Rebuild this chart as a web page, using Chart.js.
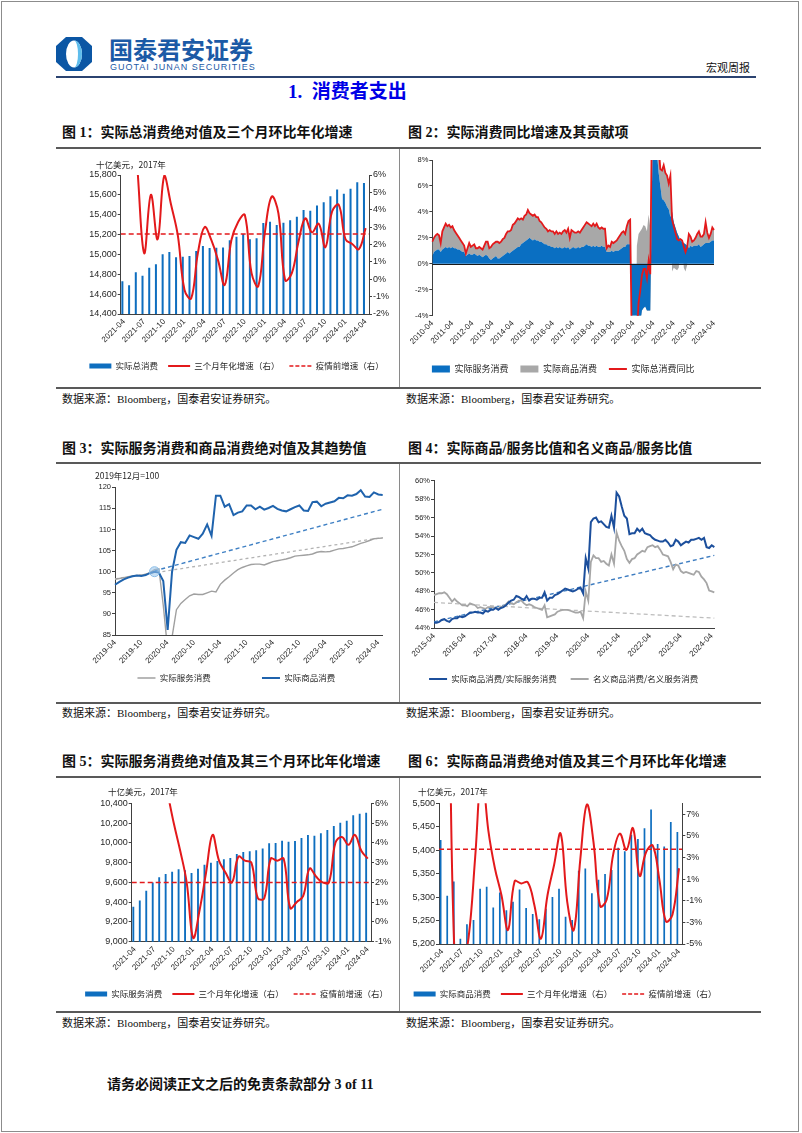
<!DOCTYPE html>
<html><head><meta charset="utf-8">
<script src="https://cdn.jsdelivr.net/npm/chart.js@4.4.1/dist/chart.umd.min.js"></script>
<style>
html,body{margin:0;padding:0;background:#fff;}
body{width:802px;height:1133px;position:relative;overflow:hidden;font-family:'Liberation Serif','Noto Sans CJK SC',serif;color:#111;}
.abs{position:absolute;}
.frame{left:1px;top:1px;width:796px;height:1129px;border:1px solid #8c8c8c;}
.ttl{font-size:14px;font-weight:bold;white-space:nowrap;line-height:20px;}
.src{font-size:11px;white-space:nowrap;line-height:14px;}
.hl{background:#595959;height:2px;left:56px;width:705px;}
.vl{background:#8a8a8a;width:1px;left:399px;}
.unit{font-family:'Noto Sans CJK SC','Liberation Sans',sans-serif;font-size:8.5px;color:#262626;white-space:nowrap;line-height:12px;}
.box{position:absolute;}
.box canvas{display:block;}
</style></head>
<body>
<div class="abs frame"></div>
<svg class="abs" style="left:56px;top:37px" width="36" height="34" viewBox="0 0 36 34">
 <polygon points="10,0 26,0 36,9 36,25 26,34 10,34 0,25 0,9" fill="#0b56a4"/>
 <ellipse cx="18" cy="17" rx="8" ry="13.5" fill="#ffffff"/>
 <path d="M18,3.5 A8,13.5 0 0 1 18,30.5 A4,13.5 0 0 0 18,3.5 Z" fill="#5fbdec"/>
</svg>
<div class="abs" style="left:109px;top:35px;font-family:'Noto Sans CJK SC',sans-serif;font-weight:bold;font-size:24px;line-height:28px;color:#1b5aa6;white-space:nowrap;">国泰君安证券</div>
<div class="abs" style="left:110px;top:62px;font-family:'Liberation Sans',sans-serif;font-size:9px;line-height:10px;letter-spacing:1px;color:#1b5aa6;white-space:nowrap;">GUOTAI JUNAN SECURITIES</div>
<div class="abs" style="left:706px;top:61px;font-size:11px;line-height:14px;white-space:nowrap;">宏观周报</div>
<div class="abs" style="left:56px;top:76px;width:700px;height:1.5px;background:#2b4370;"></div>
<div class="abs" style="left:288px;top:80px;font-size:19px;line-height:24px;font-weight:bold;color:#0000e6;white-space:nowrap;">1.&nbsp; 消费者支出</div>

<!-- row 1 -->
<div class="abs ttl" style="left:62px;top:123px;">图 1：实际总消费绝对值及三个月环比年化增速</div>
<div class="abs ttl" style="left:408px;top:123px;">图 2：实际消费同比增速及其贡献项</div>
<div class="abs hl" style="top:147px;"></div>
<div class="abs vl" style="top:149px;height:238px;"></div>
<div class="abs hl" style="top:387px;"></div>
<div class="abs src" style="left:62px;top:392px;">数据来源：Bloomberg，国泰君安证券研究。</div>
<div class="abs src" style="left:406px;top:392px;">数据来源：Bloomberg，国泰君安证券研究。</div>
<div class="box" style="left:60px;top:150px;width:338px;height:236px;"><canvas id="c1"></canvas></div>
<div class="box" style="left:400px;top:150px;width:360px;height:236px;"><canvas id="c2"></canvas></div>
<div class="abs unit" style="left:96px;top:158px;">十亿美元，2017年</div>

<!-- row 2 -->
<div class="abs ttl" style="left:62px;top:439px;">图 3：实际服务消费和商品消费绝对值及其趋势值</div>
<div class="abs ttl" style="left:408px;top:439px;">图 4：实际商品/服务比值和名义商品/服务比值</div>
<div class="abs hl" style="top:462px;"></div>
<div class="abs vl" style="top:464px;height:238px;"></div>
<div class="abs hl" style="top:702px;"></div>
<div class="abs src" style="left:62px;top:706px;">数据来源：Bloomberg，国泰君安证券研究。</div>
<div class="abs src" style="left:406px;top:706px;">数据来源：Bloomberg，国泰君安证券研究。</div>
<div class="box" style="left:60px;top:465px;width:338px;height:237px;"><canvas id="c3"></canvas></div>
<div class="box" style="left:400px;top:465px;width:360px;height:237px;"><canvas id="c4"></canvas></div>
<div class="abs unit" style="left:95px;top:469px;">2019年12月=100</div>

<!-- row 3 -->
<div class="abs ttl" style="left:62px;top:752px;">图 5：实际服务消费绝对值及其三个月环比年化增速</div>
<div class="abs ttl" style="left:408px;top:752px;">图 6：实际商品消费绝对值及其三个月环比年化增速</div>
<div class="abs hl" style="top:776px;"></div>
<div class="abs vl" style="top:778px;height:233px;"></div>
<div class="abs hl" style="top:1011px;"></div>
<div class="abs src" style="left:62px;top:1016px;">数据来源：Bloomberg，国泰君安证券研究。</div>
<div class="abs src" style="left:406px;top:1016px;">数据来源：Bloomberg，国泰君安证券研究。</div>
<div class="box" style="left:60px;top:779px;width:338px;height:232px;"><canvas id="c5"></canvas></div>
<div class="box" style="left:400px;top:779px;width:360px;height:232px;"><canvas id="c6"></canvas></div>
<div class="abs unit" style="left:108px;top:785px;">十亿美元，2017年</div>
<div class="abs unit" style="left:418px;top:785px;">十亿美元，2017年</div>

<div class="abs" style="left:107px;top:1075px;font-size:14px;line-height:20px;font-weight:bold;white-space:nowrap;">请务必阅读正文之后的免责条款部分 3 of 11</div>

<script>
// ---------- data ----------
// Chart 1: real total PCE (bn 2017 USD), 2021-04..2024-04
const total1 = [14729,14689,14820,14786,14867,14900,15001,15024,14971,14977,14984,15034,15085,15065,15068,15071,15142,15179,15206,15152,15162,15316,15330,15296,15320,15343,15380,15447,15440,15494,15525,15585,15655,15612,15662,15726,15719];
const growth1 = [null,null,6.3,1.5,4.86,2.3,5.97,4.3,2.55,-0.6,-1.1,1.5,3.0,2.26,1.1,-0.33,2.26,3.3,3.7,0.35,-0.4,2.74,4.76,3.8,-0.05,0.35,2.17,3.5,2.7,3.2,1.84,3.9,4.28,2.3,2.03,1.73,2.94];
const preCovid1 = 2.6;

// Chart 2: YoY contributions (%), 2010-04..2024-04
const svc2 = [
 0.6,0.9,1.0,1.1,1.1,0.9,1.1,1.2,1.3,
 1.2,1.3,1.2,1.3,1.2,1.2,1.1,1.1,1.0,0.9,0.9,0.6,
 0.7,0.8,0.7,0.7,0.8,0.7,0.6,0.7,0.6,0.5,0.6,0.7,
 0.6,0.4,0.3,0.4,0.5,0.6,0.4,0.4,0.5,0.6,0.7,0.8,
 0.9,0.8,0.9,1.0,1.1,1.2,1.3,1.3,1.5,1.6,1.7,1.8,
 1.9,2.0,1.9,1.8,1.9,1.8,1.8,1.7,1.7,1.6,1.5,1.5,
 1.4,1.4,1.3,1.3,1.2,1.3,1.2,1.3,1.2,1.2,1.3,1.2,
 1.3,1.1,1.2,1.3,1.2,1.2,1.3,1.2,1.3,1.3,1.4,1.5,
 1.4,1.4,1.3,1.4,1.3,1.4,1.3,1.3,1.4,1.3,1.3,0.9,
 0.9,0.9,1.0,0.9,1.0,1.0,1.0,1.1,1.2,1.3,1.3,1.5,
 1.5,1.5,-5.0,-12.0,-10.0,-7.0,-5.3,-4.6,-3.6,-3.4,-3.3,-3.6,
 -3.6,-3.6,6.0,14.0,11.0,8.5,7.0,6.0,5.0,4.9,4.7,4.4,
 4.2,3.6,4.0,3.2,2.8,2.4,2.1,1.8,1.7,1.6,1.5,1.4,
 1.2,1.4,1.3,1.4,1.4,1.4,1.5,1.3,1.4,1.5,1.6,1.6,
 1.6,1.7,1.8,1.8];
const goods2 = [
 1.1,1.1,1.2,1.2,1.1,0.7,1.4,1.6,1.8,
 1.7,1.7,1.6,1.6,1.4,1.2,1.1,0.9,0.8,0.7,0.5,0.2,
 0.5,0.8,0.6,0.7,0.7,0.5,0.6,0.6,0.6,0.6,0.8,1.0,
 1.1,0.8,1.0,1.1,1.1,1.1,1.3,1.2,1.2,1.3,1.3,1.5,
 1.6,1.7,1.7,2.0,2.0,2.1,2.2,2.1,2.0,1.8,2.0,2.0,
 2.25,1.9,1.9,1.9,1.9,1.8,1.8,1.6,1.5,1.4,1.3,1.2,
 1.1,1.2,1.2,1.2,1.1,1.2,1.1,1.1,1.1,1.3,1.3,1.2,
 1.4,0.9,1.4,1.2,1.2,1.2,1.2,1.2,1.3,1.5,1.6,1.7,
 1.7,1.6,1.6,1.7,1.6,1.7,1.5,1.4,1.4,1.4,1.4,0.3,
 0.5,0.4,0.7,0.7,0.7,0.8,1.0,1.1,1.2,1.2,1.0,1.4,
 1.8,1.9,-1.5,-5.5,-0.5,1.4,2.3,2.5,2.7,3.0,2.9,2.5,
 3.8,2.8,5.5,13.0,6.0,3.5,2.0,1.3,2.2,2.7,2.3,2.4,
 2.0,3.2,-0.6,-0.3,-0.4,-0.5,-0.3,0.1,0.1,-0.3,-0.6,-0.1,
 1.1,0.7,0.4,0.4,0.6,0.9,1.0,0.8,0.7,0.8,1.6,0.8,
 0.4,0.6,1.0,0.8];
const total2 = [
 1.7,2.0,2.2,2.3,2.2,1.6,2.5,2.8,3.1,
 2.9,3.0,2.8,2.9,2.6,2.4,2.2,2.0,1.8,1.6,1.4,0.8,
 1.2,1.6,1.3,1.4,1.5,1.2,1.2,1.3,1.2,1.1,1.4,1.7,
 1.7,1.2,1.3,1.5,1.6,1.7,1.7,1.6,1.7,1.9,2.0,2.3,
 2.5,2.5,2.6,3.0,3.1,3.3,3.5,3.4,3.5,3.4,3.7,3.8,
 4.15,3.9,3.8,3.7,3.8,3.6,3.6,3.3,3.2,3.0,2.8,2.7,
 2.5,2.6,2.5,2.5,2.3,2.5,2.3,2.4,2.3,2.5,2.6,2.4,
 2.7,2.0,2.6,2.5,2.4,2.4,2.5,2.4,2.6,2.8,3.0,3.2,
 3.1,3.0,2.9,3.1,2.9,3.1,2.8,2.7,2.8,2.7,2.7,1.2,
 1.4,1.3,1.7,1.6,1.7,1.8,2.0,2.2,2.4,2.5,2.3,2.9,
 3.3,3.4,-6.5,-17.5,-10.5,-5.6,-3.0,-2.1,-0.9,-0.4,-0.4,-1.1,
 0.2,-0.8,11.5,27.0,17.0,12.0,9.0,7.3,7.2,7.6,7.0,6.8,
 6.2,6.8,3.4,2.9,2.4,1.9,1.8,1.9,1.8,1.3,0.9,1.3,
 2.3,2.1,1.7,1.8,2.0,2.3,2.5,2.1,2.1,2.3,3.2,2.4,
 2.0,2.3,2.8,2.6];

// Chart 3: index Dec 2019 = 100, 2019-04..2024-05
const svc3 = [98.2,98.4,98.6,98.8,99.0,99.1,99.2,99.4,99.8,100.5,100.7,92.0,81.5,84.5,91.0,92.5,93.4,94.3,94.7,94.6,94.6,95.0,95.4,95.2,97.0,98.0,98.8,99.7,100.5,101.0,101.4,101.7,101.8,101.8,101.6,102.0,102.4,102.6,102.8,103.0,103.3,103.7,103.8,103.9,104.0,104.2,104.6,104.8,104.7,104.8,105.1,105.4,105.5,105.7,105.9,106.3,106.7,107.0,107.4,107.8,107.9,108.0];
const goods3 = [96.9,97.6,98.2,98.6,98.9,99.1,99.0,99.2,99.7,100.0,99.8,97.8,86.2,100.0,105.2,107.0,106.8,108.6,108.2,107.8,109.0,111.2,108.5,118.0,118.0,115.4,116.0,113.4,114.0,114.3,115.7,115.7,114.8,115.4,114.7,115.1,115.6,114.9,114.5,114.3,114.8,115.3,115.7,114.5,114.4,116.5,116.6,115.5,116.1,116.4,116.7,117.5,117.4,118.1,118.0,118.4,119.3,117.8,117.7,118.8,118.3,118.2];
const svcTrend3 = [98.3, 108.1];     // start (2019-04) / end (2024-05)
const goodsTrend3 = [100.2, 114.8];  // start (2020-01) / end (2024-05)

// Chart 4: goods/services ratio (%), 2015-04..2024-05
const real4 = [44.6,44.6,44.7,44.9,45.0,44.8,44.7,45.0,45.1,45.1,45.3,45.2,45.3,45.5,45.7,45.7,45.8,45.7,45.7,45.6,45.9,45.8,46.0,46.0,46.2,46.0,46.2,46.3,46.5,46.8,47.0,47.1,47.5,47.4,47.2,47.1,47.5,47.0,47.2,47.2,47.1,47.3,47.3,47.9,47.0,47.3,47.3,47.6,47.7,47.9,48.1,48.3,48.2,48.1,48.0,48.1,48.3,48.4,47.8,51.6,50.5,55.5,55.9,56.0,55.5,55.6,55.3,55.0,54.9,56.2,54.9,58.7,58.3,57.2,56.2,55.9,54.2,54.3,54.3,54.8,54.5,54.8,54.3,54.2,54.1,53.8,53.6,53.5,53.4,53.4,53.6,53.3,52.9,53.0,53.6,53.4,53.0,53.2,53.4,53.3,53.6,53.6,53.7,53.8,53.6,53.8,52.8,52.7,53.0,52.8];
const nominal4 = [47.6,47.7,47.8,47.8,47.9,47.7,47.3,46.9,47.2,46.9,46.7,46.5,46.5,46.4,46.7,46.6,46.5,46.2,46.3,46.2,46.1,46.3,46.3,46.3,46.2,46.1,46.3,46.4,46.6,46.9,46.7,46.6,46.8,47.0,47.0,46.7,46.5,46.6,46.5,46.3,46.2,46.1,46.0,46.5,45.2,45.3,45.4,45.5,45.8,45.9,46.0,46.0,46.0,45.9,45.8,45.7,45.7,45.8,45.1,48.0,47.0,51.2,51.9,51.6,51.6,51.2,51.3,51.0,50.8,52.0,51.0,54.4,53.5,52.9,52.4,51.5,51.1,51.5,51.6,52.0,52.2,52.4,52.3,52.8,52.9,53.0,52.8,52.9,52.5,52.0,51.9,51.8,51.2,50.4,50.9,50.8,50.2,50.0,50.1,50.0,49.9,49.8,50.2,50.1,49.6,49.3,48.9,48.1,48.0,47.9];
const realTrend4 = [44.7, 51.9];
const nominalTrend4 = [46.8, 45.1];

// Chart 5: real services PCE, 2021-04..2024-04
const svc5 = [9354,9418,9516,9600,9651,9685,9708,9732,9722,9695,9739,9779,9799,9816,9833,9847,9887,9907,9914,9924,9944,9995,9998,10022,10012,10019,10049,10079,10073,10096,10130,10170,10204,10224,10278,10295,10305];
const growth5 = [null,null,null,null,null,6.6,5.0,3.6,2.0,-0.8,0.6,2.5,4.4,3.1,2.5,2.0,3.3,3.1,3.0,1.2,1.2,3.2,3.1,3.2,0.7,1.0,1.3,2.7,2.3,2.0,2.0,4.0,4.3,3.9,4.4,3.6,3.2];
const preCovid5 = 2.0;

// Chart 6: real goods PCE, 2021-04..2024-04
const goods6 = [5422,5303,5333,5211,5242,5251,5318,5322,5278,5310,5272,5290,5316,5277,5264,5253,5275,5300,5318,5258,5251,5356,5361,5308,5337,5349,5358,5405,5398,5433,5424,5447,5487,5413,5408,5460,5439];
const growth6 = [null,20,-8,-7,-4.4,3.0,11,5.5,2.0,-0.5,-3.7,0.8,0.6,0.7,-1.4,-4.5,-0.5,2.3,5.2,-1.1,-3.7,2.9,7.9,4.4,-1.5,-0.9,3.3,5.2,3.7,5.7,1.3,3.5,4.1,1.0,-2.9,-2.3,2.0];
const preCovid6 = 3.75;
const rightTicks6 = [-5,-3,-1,1,3,5,7];

// ---------- helpers ----------
function monthLabels(y, m, n) {
  const out = [];
  for (let i = 0; i < n; i++) {
    const k = m - 1 + i;
    out.push((y + Math.floor(k / 12)) + '-' + String(k % 12 + 1).padStart(2, '0'));
  }
  return out;
}
const L1 = monthLabels(2021, 4, 37);
const L2 = monthLabels(2010, 4, 169);
const L3 = monthLabels(2019, 4, 62);
const L4 = monthLabels(2015, 4, 110);

const RED = '#e3191b', BLUE = '#0e6ebf', GRAY = '#a6a6a6', AX = '#404040', TXT = '#262626';
Chart.defaults.font.family = "'Liberation Sans','Noto Sans CJK SC',sans-serif";
Chart.defaults.color = TXT;
Chart.defaults.animation = false;

function legendOpts(items, pad, boxH, boxW, fsize) {
  return {
    position: 'bottom',
    labels: {
      usePointStyle: true, pointStyleWidth: boxW, boxHeight: boxH, padding: pad,
      font: {family: "'Noto Sans CJK SC',sans-serif", size: fsize || 8.5}, color: TXT,
      generateLabels: () => items.map(s => ({
        text: s.text, fillStyle: s.fill || 'rgba(0,0,0,0)', strokeStyle: s.stroke || s.fill || 'rgba(0,0,0,0)',
        lineWidth: s.lw || 0, lineDash: s.dash || [], pointStyle: s.style, hidden: false, fontColor: TXT
      }))
    }
  };
}
function yAxis(pos, min, max, step, width, fmt, size) {
  return {
    position: pos, min: min, max: max,
    ticks: {stepSize: step, font: {size: size}, padding: 1, callback: fmt, color: TXT},
    grid: {drawOnChartArea: false, drawTicks: true, tickLength: 3, color: AX, tickColor: AX},
    border: {color: AX, width: 1},
    afterFit: s => { s.width = width; }
  };
}
function xAxis(every, height, offset, showBorder) {
  return {
    type: 'category', offset: offset,
    grid: {display: false, drawTicks: false},
    border: {display: showBorder, color: AX},
    ticks: {autoSkip: false, maxRotation: 45, minRotation: 45, font: {size: 8}, padding: 3, color: TXT,
      callback: function (v, i) { return i % every === 0 ? this.getLabelForValue(v) : ''; }},
    afterFit: s => { s.height = height; }
  };
}
const pct = v => v + '%';
const thous = v => Number(v).toLocaleString('en-US');
const fullX = {type: 'linear', min: 0, max: 1, offset: false, display: false};

// ---------- chart 1 ----------
new Chart(document.getElementById('c1'), {
  type: 'bar',
  data: {
    labels: L1,
    datasets: [
      {type: 'bar', label: '实际总消费', data: total1, yAxisID: 'yL', backgroundColor: BLUE, barPercentage: 0.6, categoryPercentage: 1, order: 3},
      {type: 'line', label: '三个月年化增速（右）', data: growth1, yAxisID: 'yR', borderColor: RED, borderWidth: 2, pointRadius: 0, tension: 0.4, order: 1},
      {type: 'line', label: '疫情前增速（右）', data: [{x: 0, y: preCovid1}, {x: 1, y: preCovid1}], xAxisID: 'xF', yAxisID: 'yR', borderColor: RED, borderWidth: 1.5, borderDash: [5, 3], pointRadius: 0, order: 2}
    ]
  },
  options: {
    responsive: true, maintainAspectRatio: false, devicePixelRatio: 1,
    layout: {padding: {left: 15, right: 0, top: 25, bottom: 5.75}},
    plugins: {
      tooltip: {enabled: false},
      legend: legendOpts([
        {text: '实际总消费', style: 'rect', fill: BLUE},
        {text: '三个月年化增速（右）', style: 'line', stroke: RED, lw: 2},
        {text: '疫情前增速（右）', style: 'line', stroke: RED, lw: 1.5, dash: [4, 2]}
      ], 10, 5, 22)
    },
    scales: {
      x: xAxis(3, 37.75, true, true),
      xF: fullX,
      yL: yAxis('left', 14400, 15800, 200, 45.7, thous, 9),
      yR: yAxis('right', -2, 6, 1, 29, pct, 9)
    }
  }
});

// ---------- chart 2 ----------
const zeroLine = {
  id: 'zeroLine',
  afterDatasetsDraw(chart) {
    const y = chart.scales.y.getPixelForValue(0);
    const a = chart.chartArea, ctx = chart.ctx;
    ctx.save(); ctx.strokeStyle = '#1a1a1a'; ctx.lineWidth = 1;
    ctx.beginPath(); ctx.moveTo(a.left, Math.round(y) + 0.5); ctx.lineTo(a.right, Math.round(y) + 0.5); ctx.stroke();
    ctx.restore();
  }
};
new Chart(document.getElementById('c2'), {
  type: 'line',
  data: {
    labels: L2,
    datasets: [
      {label: '实际服务消费', data: svc2, stack: 'a', fill: 'origin', backgroundColor: '#0a6fc2', borderWidth: 0, pointRadius: 0, tension: 0, order: 2},
      {label: '实际商品消费', data: goods2, stack: 'a', fill: '-1', backgroundColor: '#a8a8a8', borderWidth: 0, pointRadius: 0, tension: 0, order: 3},
      {label: '实际总消费同比', data: total2, stack: 'b', fill: false, borderColor: RED, borderWidth: 1.8, pointRadius: 0, tension: 0, order: 1}
    ]
  },
  options: {
    responsive: true, maintainAspectRatio: false, devicePixelRatio: 1,
    layout: {padding: {left: 12.3, right: 46, top: 10, bottom: 2.5}},
    plugins: {
      tooltip: {enabled: false},
      legend: legendOpts([
        {text: '实际服务消费', style: 'rect', fill: '#0a6fc2'},
        {text: '实际商品消费', style: 'rect', fill: '#a8a8a8'},
        {text: '实际总消费同比', style: 'line', stroke: RED, lw: 2}
      ], 12, 7, 18, 9)
    },
    scales: {
      x: xAxis(12, 36.8, false, false),
      y: Object.assign(yAxis('left', -4, 8, 2, 20, pct, 7.5), {stacked: true})
    }
  },
  plugins: [zeroLine]
});

// ---------- chart 3 ----------
new Chart(document.getElementById('c3'), {
  type: 'line',
  data: {
    labels: L3,
    datasets: [
      {label: '实际服务消费', data: svc3, borderColor: '#a0a0a0', borderWidth: 1.4, pointRadius: 0, tension: 0, order: 2},
      {label: '实际商品消费', data: goods3, borderColor: '#1f63ad', borderWidth: 2, tension: 0, order: 1,
        pointRadius: goods3.map((v, i) => i === 9 ? 5 : 0), pointBackgroundColor: 'rgba(150,195,235,0.55)', pointBorderColor: '#8cbde6', pointBorderWidth: 1},
      {label: 'svcTrend', data: [{x: L3[0], y: svcTrend3[0]}, {x: L3[61], y: svcTrend3[1]}], borderColor: '#b3b3b3', borderWidth: 1.3, borderDash: [3, 3], pointRadius: 0, order: 4},
      {label: 'goodsTrend', data: [{x: L3[9], y: goodsTrend3[0]}, {x: L3[61], y: goodsTrend3[1]}], borderColor: '#3f80c4', borderWidth: 1.4, borderDash: [4, 3], pointRadius: 0, order: 3}
    ]
  },
  options: {
    responsive: true, maintainAspectRatio: false, devicePixelRatio: 1,
    layout: {padding: {left: 30, right: 15.3, top: 22.3, bottom: 9.75}},
    plugins: {
      tooltip: {enabled: false},
      legend: legendOpts([
        {text: '实际服务消费\u3000\u3000\u3000\u3000\u3000', style: 'line', stroke: '#a0a0a0', lw: 1.5},
        {text: '实际商品消费', style: 'line', stroke: '#1f63ad', lw: 2}
      ], 8.75, 5, 18)
    },
    scales: {
      x: xAxis(6, 30, false, true),
      y: yAxis('left', 85, 120, 5, 25, v => v, 7.5)
    }
  }
});

// ---------- chart 4 ----------
new Chart(document.getElementById('c4'), {
  type: 'line',
  data: {
    labels: L4,
    datasets: [
      {label: '实际商品消费/实际服务消费', data: real4, borderColor: '#1c4f9c', borderWidth: 2, pointRadius: 0, tension: 0, order: 1},
      {label: '名义商品消费/名义服务消费', data: nominal4, borderColor: '#a6a6a6', borderWidth: 1.8, pointRadius: 0, tension: 0, order: 2},
      {label: 'realTrend', data: [{x: L4[0], y: realTrend4[0]}, {x: L4[109], y: realTrend4[1]}], borderColor: '#3d7cc0', borderWidth: 1.4, borderDash: [4, 3], pointRadius: 0, order: 3},
      {label: 'nominalTrend', data: [{x: L4[0], y: nominalTrend4[0]}, {x: L4[109], y: nominalTrend4[1]}], borderColor: '#bdbdbd', borderWidth: 1.3, borderDash: [4, 3], pointRadius: 0, order: 4}
    ]
  },
  options: {
    responsive: true, maintainAspectRatio: false, devicePixelRatio: 1,
    layout: {padding: {left: 13, right: 45.7, top: 15.7, bottom: 8.75}},
    plugins: {
      tooltip: {enabled: false},
      legend: legendOpts([
        {text: '实际商品消费/实际服务消费', style: 'line', stroke: '#1c4f9c', lw: 2},
        {text: '名义商品消费/名义服务消费', style: 'line', stroke: '#a6a6a6', lw: 2}
      ], 14, 5, 18)
    },
    scales: {
      x: xAxis(12, 32.45, false, true),
      y: yAxis('left', 44, 60, 2, 21, pct, 7.5)
    }
  }
});

// ---------- chart 5 ----------
new Chart(document.getElementById('c5'), {
  type: 'bar',
  data: {
    labels: L1,
    datasets: [
      {type: 'bar', label: '实际服务消费', data: svc5, yAxisID: 'yL', backgroundColor: BLUE, barPercentage: 0.58, categoryPercentage: 1, order: 3},
      {type: 'line', label: '三个月年化增速（右）', data: growth5, yAxisID: 'yR', borderColor: RED, borderWidth: 2, pointRadius: 0, tension: 0.4, order: 1},
      {type: 'line', label: '疫情前增速（右）', data: [{x: 0, y: preCovid5}, {x: 1, y: preCovid5}], xAxisID: 'xF', yAxisID: 'yR', borderColor: RED, borderWidth: 1.5, borderDash: [5, 3], pointRadius: 0, order: 2}
    ]
  },
  options: {
    responsive: true, maintainAspectRatio: false, devicePixelRatio: 1,
    layout: {padding: {left: 15, right: 0, top: 24.3, bottom: 2.75}},
    plugins: {
      tooltip: {enabled: false},
      legend: legendOpts([
        {text: '实际服务消费', style: 'rect', fill: BLUE},
        {text: '三个月年化增速（右）', style: 'line', stroke: RED, lw: 2},
        {text: '疫情前增速（右）', style: 'line', stroke: RED, lw: 1.5, dash: [4, 2]}
      ], 10, 5, 22)
    },
    scales: {
      x: xAxis(3, 38.05, true, true),
      xF: fullX,
      yL: yAxis('left', 9000, 10400, 200, 56.7, thous, 9),
      yR: yAxis('right', -1, 6, 1, 27, pct, 9)
    }
  }
});

// ---------- chart 6 ----------
new Chart(document.getElementById('c6'), {
  type: 'bar',
  data: {
    labels: L1,
    datasets: [
      {type: 'bar', label: '实际商品消费', data: goods6, yAxisID: 'yL', backgroundColor: BLUE, barPercentage: 0.52, categoryPercentage: 1, order: 3},
      {type: 'line', label: '三个月年化增速（右）', data: growth6, yAxisID: 'yR', borderColor: RED, borderWidth: 2, pointRadius: 0, tension: 0.4, order: 1},
      {type: 'line', label: '疫情前增速（右）', data: [{x: 0, y: preCovid6}, {x: 1, y: preCovid6}], xAxisID: 'xF', yAxisID: 'yR', borderColor: RED, borderWidth: 1.5, borderDash: [5, 3], pointRadius: 0, order: 2}
    ]
  },
  options: {
    responsive: true, maintainAspectRatio: false, devicePixelRatio: 1,
    layout: {padding: {left: 0, right: 30, top: 24.3, bottom: 2.75}},
    plugins: {
      tooltip: {enabled: false},
      legend: legendOpts([
        {text: '实际商品消费', style: 'rect', fill: BLUE},
        {text: '三个月年化增速（右）', style: 'line', stroke: RED, lw: 2},
        {text: '疫情前增速（右）', style: 'line', stroke: RED, lw: 1.5, dash: [4, 2]}
      ], 10, 5, 22)
    },
    scales: {
      x: xAxis(3, 35.75, true, true),
      xF: fullX,
      yL: yAxis('left', 5200, 5500, 50, 39, thous, 9),
      yR: Object.assign(yAxis('right', -5, 8, 2, 47.7, pct, 9), {
        afterBuildTicks: s => { s.ticks = rightTicks6.map(v => ({value: v})); }
      })
    }
  }
});
</script>
</body></html>
